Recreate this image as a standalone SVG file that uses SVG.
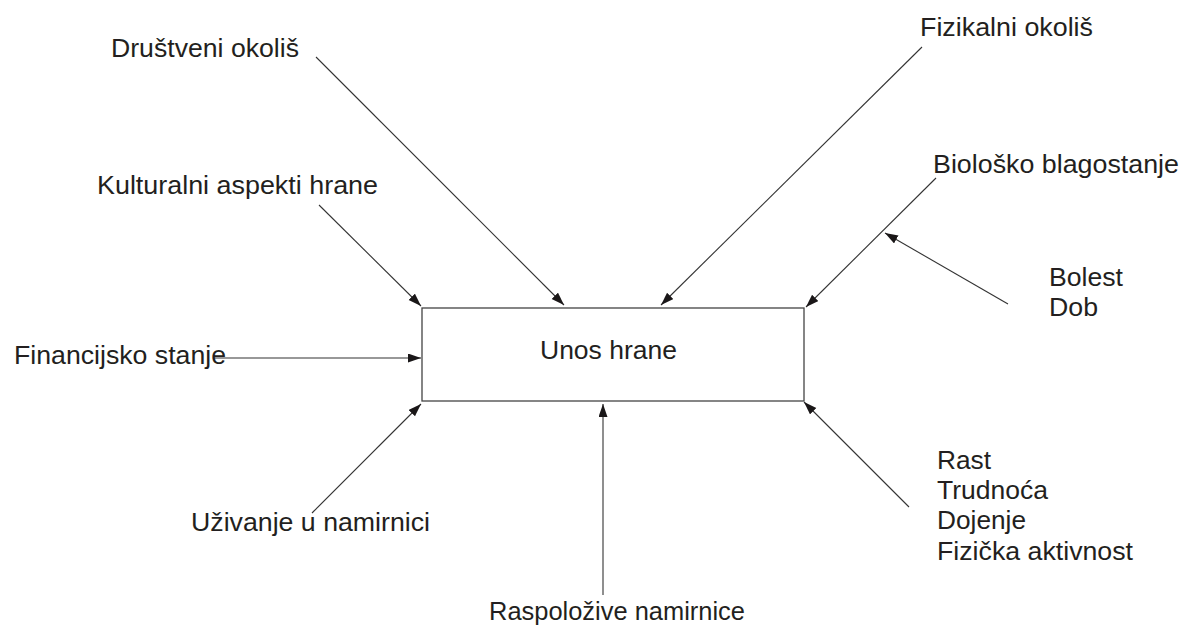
<svg xmlns="http://www.w3.org/2000/svg" width="1184" height="631" viewBox="0 0 1184 631">
<defs>
<marker id="ah" markerUnits="userSpaceOnUse" markerWidth="14" markerHeight="10" refX="13" refY="4.5" orient="auto">
<path d="M0,0 L13,4.5 L0,9 Z" fill="#1a1718"/>
</marker>
<style>
text{font-family:"Liberation Sans",Arial,sans-serif;font-size:26.5px;fill:#231f20}
.c{stroke:#333;stroke-width:1.1;fill:none;marker-end:url(#ah)}
</style>
</defs>
<rect width="1184" height="631" fill="#fff"/>
<g id="connectors">
<line class="c" x1="316" y1="57" x2="564" y2="305"/>
<line class="c" x1="319" y1="205" x2="421" y2="306"/>
<line class="c" x1="922" y1="47" x2="661" y2="305"/>
<line class="c" x1="936" y1="178" x2="806" y2="307"/>
<line class="c" x1="1008" y1="304" x2="885" y2="233"/>
<line class="c" x1="213" y1="358" x2="421" y2="358"/>
<line class="c" x1="312" y1="513" x2="421" y2="404"/>
<line class="c" x1="603" y1="595" x2="603" y2="404"/>
<line class="c" x1="909" y1="507" x2="804" y2="402"/>
</g>
<g id="unos">
<rect x="422" y="308" width="382" height="93" fill="none" stroke="#444" stroke-width="1.3"/>
<text x="540" y="359" textLength="137" lengthAdjust="spacingAndGlyphs">Unos hrane</text>
</g>
<g id="drustveni"><text x="111" y="57" textLength="188" lengthAdjust="spacingAndGlyphs">Društveni okoliš</text></g>
<g id="kulturalni"><text x="97" y="194" textLength="281" lengthAdjust="spacingAndGlyphs">Kulturalni aspekti hrane</text></g>
<g id="fizikalni"><text x="920" y="36" textLength="173" lengthAdjust="spacingAndGlyphs">Fizikalni okoliš</text></g>
<g id="bioloski"><text x="933" y="173" textLength="246" lengthAdjust="spacingAndGlyphs">Biološko blagostanje</text></g>
<g id="bolest"><text x="1049" y="286" textLength="74" lengthAdjust="spacingAndGlyphs">Bolest</text><text x="1049" y="316" textLength="49" lengthAdjust="spacingAndGlyphs">Dob</text></g>
<g id="financijsko"><text x="14" y="364" textLength="212" lengthAdjust="spacingAndGlyphs">Financijsko stanje</text></g>
<g id="uzivanje"><text x="191" y="531" textLength="239" lengthAdjust="spacingAndGlyphs">Uživanje u namirnici</text></g>
<g id="raspolozive"><text x="489" y="620" textLength="256" lengthAdjust="spacingAndGlyphs">Raspoložive namirnice</text></g>
<g id="rast">
<text x="937" y="469" textLength="54" lengthAdjust="spacingAndGlyphs">Rast</text>
<text x="937" y="499" textLength="111" lengthAdjust="spacingAndGlyphs">Trudnoća</text>
<text x="937" y="529" textLength="89" lengthAdjust="spacingAndGlyphs">Dojenje</text>
<text x="937" y="560" textLength="196" lengthAdjust="spacingAndGlyphs">Fizička aktivnost</text>
</g>
</svg>
